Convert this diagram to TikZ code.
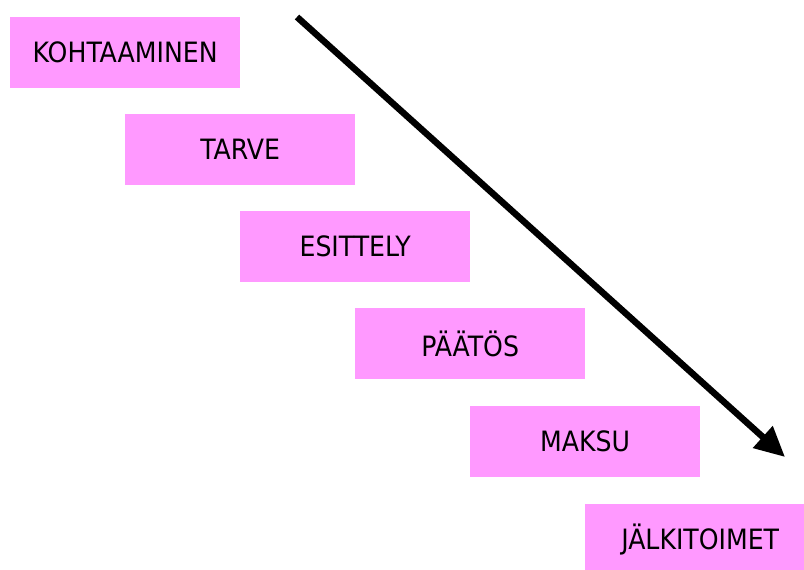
\documentclass[tikz,border=0pt]{standalone}
\usepackage{fontspec}
\setmainfont{DejaVu Sans Condensed}
\usetikzlibrary{arrows.meta}
\definecolor{boxpink}{HTML}{FF99FF}
\tikzset{
  stepbox/.style={fill=boxpink, draw=none, minimum width=230pt, minimum height=71pt, inner sep=0pt, anchor=north west, font=\fontsize{28}{32}\selectfont},
  bigarrow/.style={line width=6.5pt, -{Triangle[length=30pt,width=28pt]}}
}
\begin{document}
\begin{tikzpicture}[x=1pt,y=-1pt]
\useasboundingbox (0,0) rectangle (804,570);
\clip (0,0) rectangle (804,570);
\fill[white] (0,0) rectangle (804,570);
\node[stepbox] (k) at (10,17) {KOHTAAMINEN};
\node[stepbox] (t) at (125,114) {TARVE};
\node[stepbox] (e) at (240,211) {ESITTELY};
\node[stepbox] (p) at (355,308) {PÄÄTÖS};
\node[stepbox] (m) at (470,406) {MAKSU};
\node[stepbox] (j) at (585,504) {JÄLKITOIMET};
\coordinate (a1) at (297,17);
\coordinate (a2) at (785,457);
\draw[bigarrow] (a1) -- (a2);
\end{tikzpicture}
\end{document}
